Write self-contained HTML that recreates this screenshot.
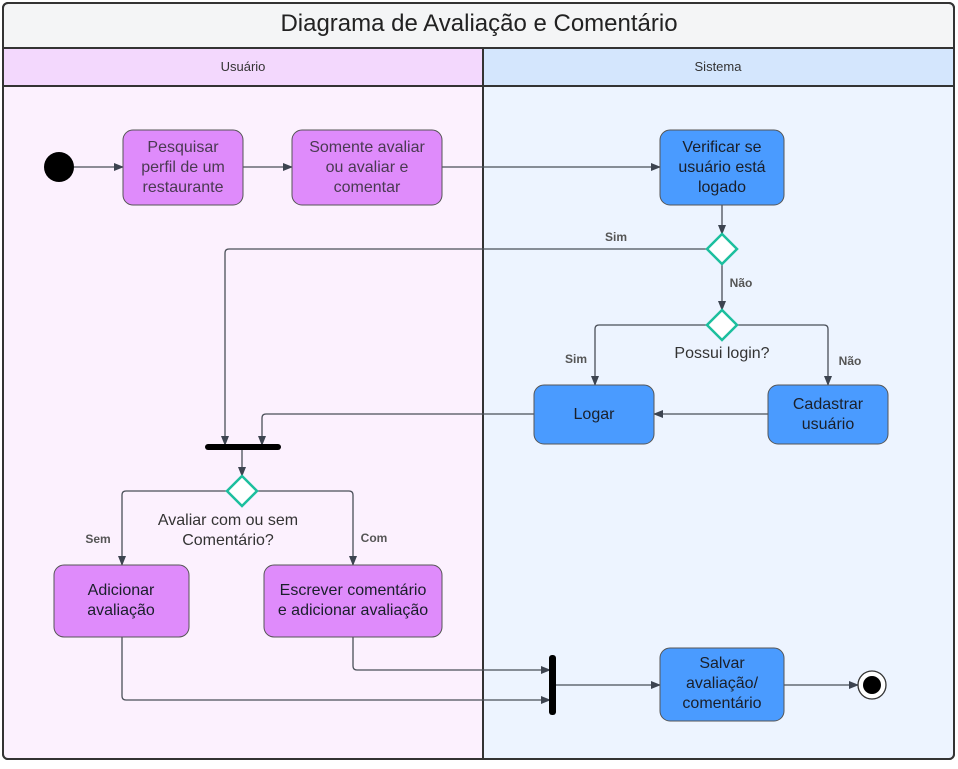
<!DOCTYPE html>
<html><head><meta charset="utf-8"><style>
html,body{margin:0;padding:0;background:#fff;}
svg text{font-family:"Liberation Sans",sans-serif;}
</style></head><body>
<svg width="958" height="764" viewBox="0 0 958 764" xmlns="http://www.w3.org/2000/svg">
<defs>
<marker id="a" markerWidth="10" markerHeight="8" refX="9" refY="4" orient="auto" markerUnits="userSpaceOnUse">
<path d="M0,0 L10,4 L0,8 Z" fill="#3d4450"/></marker>
</defs>
<rect x="3" y="3" width="951" height="756" rx="5" fill="#f4f5f6" stroke="#333" stroke-width="2"/>
<rect x="4" y="48" width="479" height="38" fill="#f3d8fd"/>
<rect x="4" y="86" width="479" height="672" fill="#fcf1fe"/>
<rect x="483" y="48" width="470" height="38" fill="#d4e6fd"/>
<rect x="483" y="86" width="470" height="672" fill="#edf4ff"/>
<line x1="3" y1="48" x2="954" y2="48" stroke="#333" stroke-width="2"/>
<line x1="3" y1="86" x2="954" y2="86" stroke="#333" stroke-width="2"/>
<line x1="483" y1="48" x2="483" y2="759" stroke="#333" stroke-width="2"/>
<rect x="3" y="3" width="951" height="756" rx="5" fill="none" stroke="#333" stroke-width="2"/>
<text x="479" y="31" font-size="24" text-anchor="middle" fill="#222">Diagrama de Avaliação e Comentário</text>
<text x="243" y="71" font-size="13" text-anchor="middle" fill="#333">Usuário</text>
<text x="718" y="71" font-size="13" text-anchor="middle" fill="#333">Sistema</text>

<g stroke="#4a4f58" stroke-width="1.3" fill="none">
<line x1="74" y1="167" x2="123" y2="167" marker-end="url(#a)"/>
<line x1="243" y1="167" x2="292" y2="167" marker-end="url(#a)"/>
<line x1="442" y1="167" x2="660" y2="167" marker-end="url(#a)"/>
<line x1="722" y1="205" x2="722" y2="234" marker-end="url(#a)"/>
<path d="M707,249 H229 Q225,249 225,253 V445" marker-end="url(#a)"/>
<line x1="722" y1="264" x2="722" y2="310" marker-end="url(#a)"/>
<path d="M707,325 H599 Q595,325 595,329 V385" marker-end="url(#a)"/>
<path d="M737,325 H824 Q828,325 828,329 V385" marker-end="url(#a)"/>
<line x1="768" y1="414" x2="654" y2="414" marker-end="url(#a)"/>
<path d="M534,414 H266 Q262,414 262,418 V445" marker-end="url(#a)"/>
<line x1="242" y1="450" x2="242" y2="476" marker-end="url(#a)"/>
<path d="M227,491 H126 Q122,491 122,495 V565" marker-end="url(#a)"/>
<path d="M257,491 H349 Q353,491 353,495 V565" marker-end="url(#a)"/>
<path d="M353,637 V666 Q353,670 357,670 H550" marker-end="url(#a)"/>
<path d="M122,637 V696 Q122,700 126,700 H550" marker-end="url(#a)"/>
<line x1="555" y1="685" x2="660" y2="685" marker-end="url(#a)"/>
<line x1="784" y1="685" x2="858" y2="685" marker-end="url(#a)"/>
</g>

<circle cx="59" cy="167" r="15" fill="#000"/>
<g stroke="#555" stroke-width="1" font-size="16">
<rect x="123" y="130" width="120" height="75" rx="10" fill="#df8bfb"/>
<rect x="292" y="130" width="150" height="75" rx="10" fill="#df8bfb"/>
<rect x="54" y="565" width="135" height="72" rx="10" fill="#df8bfb"/>
<rect x="264" y="565" width="178" height="72" rx="10" fill="#df8bfb"/>
<rect x="660" y="130" width="124" height="75" rx="10" fill="#4a9bff"/>
<rect x="534" y="385" width="120" height="59" rx="10" fill="#4a9bff"/>
<rect x="768" y="385" width="120" height="59" rx="10" fill="#4a9bff"/>
<rect x="660" y="648" width="124" height="73" rx="10" fill="#4a9bff"/>
</g>
<g fill="#fff" stroke="#1cbf9e" stroke-width="2.5">
<path d="M722,234 L737,249 L722,264 L707,249 Z"/>
<path d="M722,310 L737,325 L722,340 L707,325 Z"/>
<path d="M242,476 L257,491 L242,506 L227,491 Z"/>
</g>
<rect x="205" y="444" width="76" height="6" rx="3" fill="#000"/>
<rect x="549" y="655" width="7" height="60" rx="3" fill="#000"/>
<circle cx="872" cy="685" r="14" fill="#fff" stroke="#333" stroke-width="1.3"/>
<circle cx="872" cy="685" r="9" fill="#000"/>

<g font-size="16" text-anchor="middle" fill="#4a3a52">
<text x="183" y="152">Pesquisar</text><text x="183" y="172">perfil de um</text><text x="183" y="192">restaurante</text>
<text x="367" y="152">Somente avaliar</text><text x="367" y="172">ou avaliar e</text><text x="367" y="192">comentar</text>
</g>
<g font-size="16" text-anchor="middle" fill="#1a1f2a">
<text x="121" y="595">Adicionar</text><text x="121" y="615">avaliação</text>
<text x="353" y="595">Escrever comentário</text><text x="353" y="615">e adicionar avaliação</text>
<text x="722" y="152">Verificar se</text><text x="722" y="172">usuário está</text><text x="722" y="192">logado</text>
<text x="594" y="419">Logar</text>
<text x="828" y="409">Cadastrar</text><text x="828" y="429">usuário</text>
<text x="722" y="668">Salvar</text><text x="722" y="688">avaliação/</text><text x="722" y="708">comentário</text>
<text x="722" y="358" fill="#333">Possui login?</text>
<text x="228" y="525" fill="#333">Avaliar com ou sem</text>
<text x="228" y="545" fill="#333">Comentário?</text>
</g>
<g font-size="12" font-weight="bold" fill="#555" text-anchor="middle">
<text x="616" y="241">Sim</text>
<text x="741" y="287">Não</text>
<text x="576" y="363">Sim</text>
<text x="850" y="365">Não</text>
<text x="98" y="543">Sem</text>
<text x="374" y="542">Com</text>
</g>
</svg>
</body></html>
